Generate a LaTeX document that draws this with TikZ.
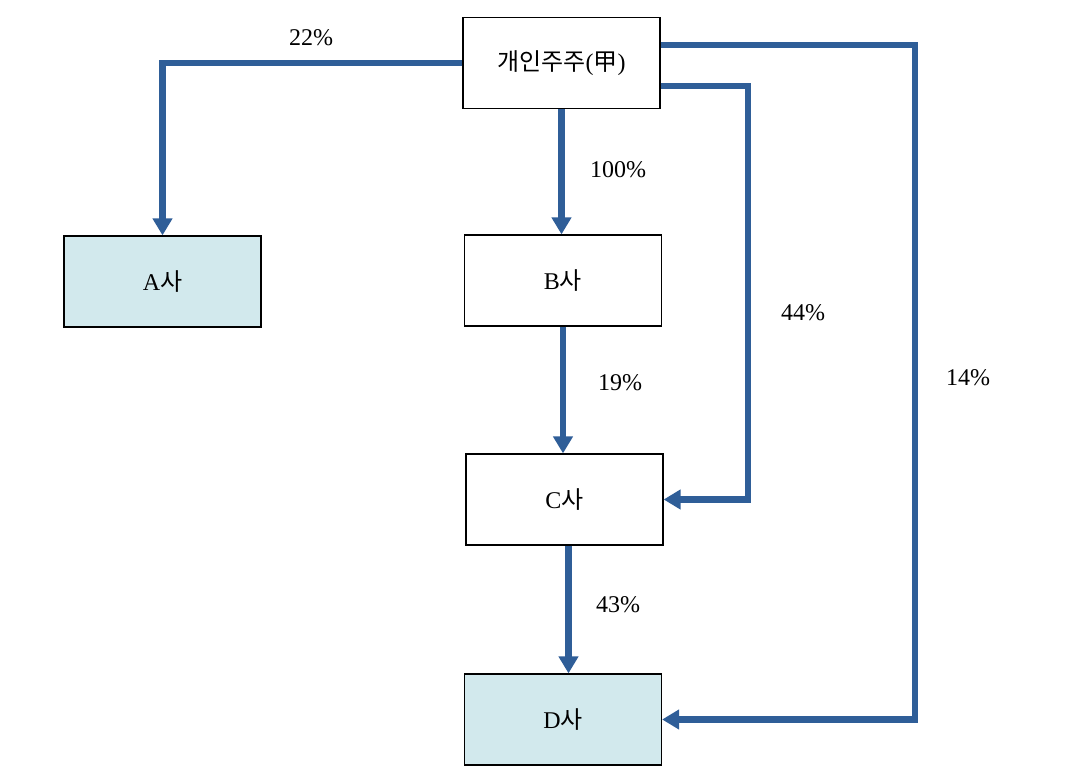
\documentclass[tikz,border=0pt]{standalone}
\usepackage{fontspec}
\setmainfont{Liberation Serif}
\newfontfamily\cjk{Noto Sans CJK KR}
\usetikzlibrary{arrows.meta}
\definecolor{arrowblue}{RGB}{47,94,152}
\definecolor{boxcyan}{RGB}{210,233,237}
\newcommand\kr[1]{{\cjk #1}}
\tikzset{
  entity/.style={draw=black, line width=1.2pt, minimum width=197pt, minimum height=91pt, inner sep=0pt, font=\fontsize{24}{28}\selectfont},
  shaded/.style={entity, fill=boxcyan},
  plain/.style={entity, fill=white},
  own/.style={draw=arrowblue, line width=6.5pt, -{Triangle[length=17pt,width=19pt]}},
  pct/.style={font=\fontsize{24}{28}\selectfont, inner sep=0pt}
}
\begin{document}
\begin{tikzpicture}[x=1pt,y=-1pt]
\useasboundingbox (0,0) rectangle (1074,783);
\node[plain]  (top) at (561.5,63)  {\kr{개인주주}(\kr{甲})};
\node[shaded] (A)   at (162.5,281.5) {A\kr{사}};
\node[plain]  (B)   at (563,280.5) {B\kr{사}};
\node[plain]  (C)   at (564.5,499.5) {C\kr{사}};
\node[shaded] (D)   at (563,719.5) {D\kr{사}};
\coordinate (r1) at (748,0);
\coordinate (r2) at (915,0);
\draw[own] (top.west) -| (A.north);
\draw[own] (top.south) -- (top.south |- B.north);
\draw[own] (B.south) -- (B.south |- C.north);
\draw[own] ([xshift=4pt]C.south) -- ([xshift=4pt]C.south |- D.north);
\draw[own] ([yshift=-23pt]top.east) -| (r1 |- C.east) -- (C.east);
\draw[own] ([yshift=18pt]top.east) -| (r2 |- D.east) -- (D.east);
\node[pct] (p22)  at (311,38)  {22\%};
\node[pct] (p100) at (618,170) {100\%};
\node[pct] (p44)  at (803,313) {44\%};
\node[pct] (p19)  at (620,383) {19\%};
\node[pct] (p14)  at (968,378) {14\%};
\node[pct] (p43)  at (618,605) {43\%};
\end{tikzpicture}
\end{document}
